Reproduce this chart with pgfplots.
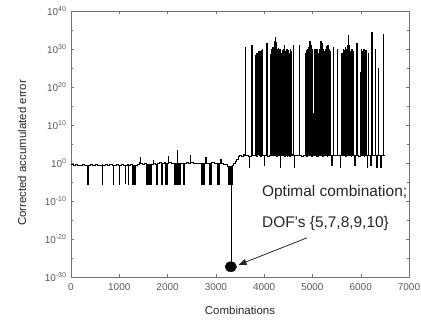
\documentclass[border=0pt]{standalone}
\usepackage{pgfplots}
\pgfplotsset{compat=1.18}
\usepackage{fontspec}
\setmainfont{Liberation Sans}
\usetikzlibrary{arrows.meta}
\begin{document}
\begin{tikzpicture}
\useasboundingbox (-71bp,-43bp) rectangle (350bp,277bp);
\begin{axis}[
  scale only axis, width=338bp, height=266bp,
  xmin=0, xmax=7000, ymode=log, ymin=1e-30, ymax=1e40,
  xtick={0,1000,2000,3000,4000,5000,6000,7000},
  xticklabels={0,1000,2000,3000,4000,5000,6000,7000},
  ytick={1e-30,1e-20,1e-10,1e0,1e10,1e20,1e30,1e40},
  yticklabels={10\textsuperscript{-30},10\textsuperscript{-20},10\textsuperscript{-10},10\textsuperscript{0},10\textsuperscript{10},10\textsuperscript{20},10\textsuperscript{30},10\textsuperscript{40}},
  minor ytick={1e-25,1e-15,1e-5,1e5,1e15,1e25,1e35},
  minor xtick={},
  tick align=inside,
  major tick length=3bp, minor tick length=2bp,
  axis line style={black!55}, every tick/.style={black!55},
  ticklabel style={font=\fontsize{10}{12}\selectfont, text=black!65},
  /pgf/number format/assume math mode=true,
  xticklabel style={yshift=-3bp},
  yticklabel style={xshift=-1bp},
  xlabel={Combinations}, ylabel={Corrected accumulated error},
  label style={font=\fontsize{11.5}{13}\selectfont, text=black!85},
  xlabel style={at={(axis description cs:0.5,-0.124)}, anchor=center},
  ylabel style={at={(axis description cs:-0.145,0.466)}, anchor=center},
]
\addplot[black, line width=0.5bp, const plot] table {
0 0.35
40 0.3
80 0.4
120 0.28
160 0.33
200 0.3
240 0.45
280 0.3
330 0.32
345 3e-6
352 0.3
400 0.35
450 0.25
500 0.4
550 0.3
600 0.28
640 0.35
648 3e-6
655 0.3
700 0.38
750 0.3
800 0.45
850 0.3
870 0.25
876 3e-6
883 0.3
930 0.35
970 0.28
1000 3e-6
1007 0.3
1050 0.5
1090 0.3
1110 0.3
1118 4e-6
1125 0.3
1160 0.35
1180 0.25
1187 3e-6
1194 0.3
1230 0.4
1265 0.2
1272 3e-6
1280 0.2
1287 3e-6
1295 0.15
1302 3e-6
1310 0.2
1317 3e-6
1325 0.2
1332 3e-6
1340 0.3
1380 0.5
1420 1.2
1430 30
1436 1.0
1480 0.6
1520 0.8
1555 0.5
1562 3e-6
1570 0.5
1577 3e-6
1585 0.4
1592 3e-6
1600 0.5
1607 3e-6
1615 0.6
1622 3e-6
1630 0.5
1637 3e-6
1645 0.5
1652 3e-6
1660 0.6
1700 5
1706 0.8
1755 0.6
1762 3e-6
1770 0.6
1777 3e-6
1785 0.7
1830 1.5
1865 0.8
1872 3e-6
1880 0.7
1887 3e-6
1895 0.9
1930 2
1955 0.7
1962 3e-6
1970 0.8
1977 3e-6
1985 1.0
2010 50
2016 1.2
2080 0.8
2140 0.8
2147 3e-6
2155 0.9
2162 3e-6
2170 1
2177 3e-6
2185 0.8
2192 3e-6
2200 2000
2206 0.8
2215 3e-6
2222 1
2230 3e-6
2237 0.9
2245 3e-6
2255 1
2290 0.7
2322 0.6
2329 3e-6
2336 0.8
2380 1.5
2420 0.8
2460 100
2466 1.2
2530 0.8
2560 0.9
2640 0.8
2690 0.9
2697 3e-6
2705 0.8
2712 3e-6
2720 0.9
2727 3e-6
2735 1
2742 3e-6
2750 0.8
2757 3e-6
2765 1
2790 30
2796 1.0
2855 0.8
2862 3e-6
2870 0.9
2877 3e-6
2885 0.8
2892 3e-6
2900 1.2
2960 0.7
3025 0.8
3032 3e-6
3040 0.7
3047 3e-6
3055 0.9
3062 3e-6
3070 1
3100 10
3106 0.9
3160 0.5
3220 0.4
3240 0.15
3247 3e-6
3255 0.12
3262 3e-6
3270 0.15
3277 3e-6
3285 0.12
3292 3e-6
3300 0.15
3310 5e-28
3314 0.12
3320 3e-6
3327 0.15
3334 3e-6
3340 0.2
3370 0.8
3400 3
3430 10
3460 60
3480 100
3520 80
3560 150
3596 100
3600 3e30
3604 100
3640 120
3680 60
3686 0.1
3692 80
3735 120
3740 1e31
3744 100
3790 90
3810 3e28
3822 100
3834 1e29
3846 80
3858 1e29
3870 150
3882 3e29
3894 100
3906 2e29
3918 80
3930 5e29
3942 120
3954 1e30
3966 100
4000 70
4006 0.2
4012 90
4050 3e31
4054 100
4062 1e16
4068 80
4110 120
4120 5e28
4132 100
4144 1e30
4156 90
4168 3e30
4180 100
4192 1e30
4204 120
4216 1e32
4222 1e33
4228 120
4240 5e31
4252 80
4264 1e30
4276 100
4288 2e30
4300 90
4312 1e30
4324 80
4332 0.1
4338 100
4342 1e29
4354 100
4366 5e29
4378 90
4390 1e30
4402 110
4414 1e31
4426 80
4438 3e29
4450 100
4462 1e30
4474 60
4486 5e29
4498 100
4510 1e29
4522 80
4534 1e30
4546 100
4558 3e29
4570 100
4580 150
4600 100
4603 1e31
4607 100
4620 50
4626 0.1
4632 90
4700 100
4727 1e31
4731 100
4760 80
4800 120
4845 1e29
4857 100
4869 5e29
4881 80
4893 1e30
4905 100
4917 3e30
4929 90
4941 1e32
4953 100
4965 1e31
4977 80
4989 1e30
5001 100
5013 1e13
5025 90
5037 1e30
5049 100
5061 3e29
5073 80
5085 1e30
5097 100
5110 60
5120 1e29
5132 100
5144 1e30
5156 90
5168 1e32
5180 100
5192 3e31
5204 80
5216 1e30
5228 100
5240 3e29
5252 90
5264 1e30
5276 100
5288 5e30
5300 80
5312 1e31
5324 100
5336 1e30
5348 90
5360 3e29
5372 100
5390 120
5400 0.2
5406 100
5431 3e30
5435 100
5514 1e30
5518 100
5560 120
5570 0.1
5576 90
5604 1e29
5616 100
5628 1e30
5640 90
5652 5e29
5664 100
5676 3e30
5688 80
5700 1e30
5712 100
5724 1e31
5736 90
5742 5e33
5748 90
5760 1e31
5772 100
5784 3e29
5796 80
5808 1e30
5820 100
5832 3e29
5844 100
5860 80
5870 0.2
5880 100
5915 3e31
5919 100
5950 80
5983 1e24
5995 100
6007 1e30
6019 90
6031 3e29
6043 100
6055 1e30
6067 80
6079 1e21
6091 100
6103 5e29
6115 100
6130 0.1
6136 90
6156 1e29
6160 100
6190 60
6200 0.3
6210 100
6225 3e34
6229 100
6260 90
6294 1e30
6298 100
6320 50
6330 0.1
6340 90
6363 1e25
6367 100
6400 80
6410 0.1
6420 100
6466 1e34
6470 120
6480 100
};
\addplot[only marks, mark=*, mark size=5bp, mark options={xscale=1.15, fill=black, draw=black}] coordinates {(3310,5e-28)};
\draw[black!85, line width=0.8bp, -{Triangle[length=8bp,width=6bp]}] (axis cs:4886,2e-20) -- (axis cs:3470,1.6e-27);
\node[anchor=base west, font=\fontsize{15.5}{18}\selectfont, text=black!85, inner sep=0pt] at (axis cs:3954,1.2e-9) {Optimal combination;};
\node[anchor=base west, font=\fontsize{15.5}{18}\selectfont, text=black!85, inner sep=0pt] at (axis cs:3954,8e-18) {DOF’s \{5,7,8,9,10\}};
\end{axis}
\end{tikzpicture}
\end{document}
